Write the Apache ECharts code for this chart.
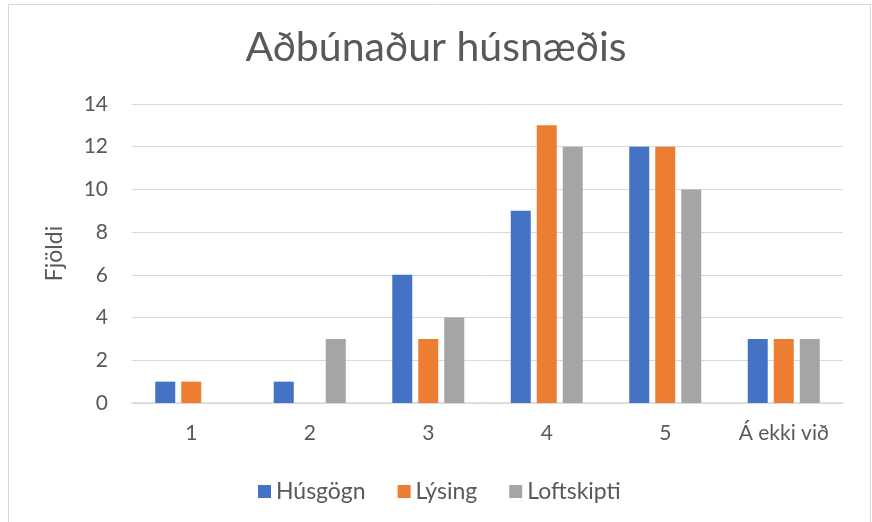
<!DOCTYPE html>
<html>
<head>
<meta charset="utf-8">
<script src="https://cdn.jsdelivr.net/npm/echarts@6/dist/echarts.min.js"></script>
<style>
  html, body { margin: 0; padding: 0; background: #fff; }
  #main { width: 872px; height: 522px; }
</style>
</head>
<body>
<div id="main"></div>
<script>
// data
var categories = ['1', '2', '3', '4', '5', 'Á ekki við'];
var husgogn = [1, 1, 6, 9, 12, 3];
var lysing = [1, 0, 3, 13, 12, 3];
var loftskipti = [0, 3, 4, 12, 10, 3];

var FONT = 'Lato';
var TXT = '#595959';

var chart = echarts.init(document.getElementById('main'));

function bar(name, data, color) {
  return {
    name: name,
    type: 'bar',
    data: data,
    barWidth: 20,
    barGap: '30%',
    itemStyle: { color: color }
  };
}

var option = {
  backgroundColor: '#fff',
  animation: false,
  textStyle: { fontFamily: FONT, color: TXT },
  graphic: [{
    type: 'rect',
    shape: { x: 8.5, y: 4.5, width: 862, height: 530 },
    style: { fill: 'none', stroke: '#d9d9d9', lineWidth: 1 },
    silent: true
  }],
  title: {
    text: 'Aðbúnaður húsnæðis',
    left: 'center',
    top: 22,
    textStyle: { fontFamily: FONT, fontSize: 41, fontWeight: 'normal', color: TXT }
  },
  legend: {
    top: 475,
    left: 253,
    itemWidth: 13,
    itemHeight: 13,
    itemGap: 32,
    icon: 'rect',
    textStyle: { fontFamily: FONT, fontSize: 23, color: TXT }
  },
  grid: { left: 132, right: 29, top: 104, bottom: 119 },
  xAxis: {
    type: 'category',
    data: categories,
    axisLine: { lineStyle: { color: '#d9d9d9', width: 1.5 } },
    axisTick: { show: false },
    axisLabel: { fontFamily: FONT, fontSize: 21, color: TXT, margin: 20 }
  },
  yAxis: {
    type: 'value',
    min: 0,
    max: 14,
    interval: 2,
    name: 'Fjöldi',
    nameLocation: 'middle',
    nameGap: 66,
    nameRotate: 90,
    nameTextStyle: { fontFamily: FONT, fontSize: 23, color: TXT },
    axisLine: { show: false },
    axisTick: { show: false },
    splitLine: { lineStyle: { color: '#d9d9d9', width: 1 } },
    axisLabel: { fontFamily: FONT, fontSize: 21, color: TXT, margin: 24 }
  },
  series: [
    bar('Húsgögn', husgogn, '#4472c4'),
    bar('Lýsing', lysing, '#ed7d31'),
    bar('Loftskipti', loftskipti, '#a5a5a5')
  ]
};

chart.setOption(option);
</script>
</body>
</html>
